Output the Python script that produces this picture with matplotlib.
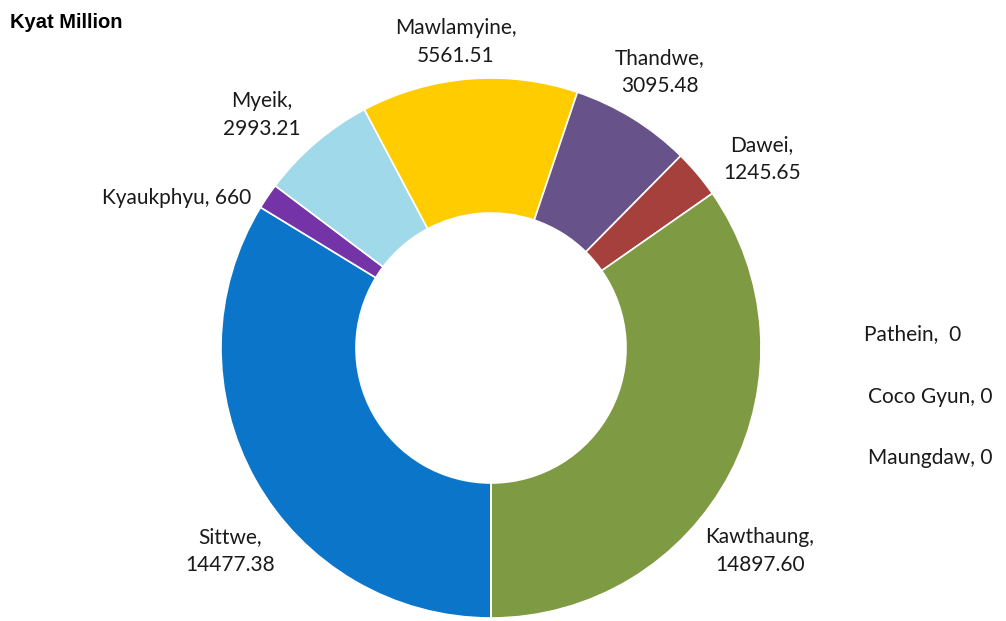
import matplotlib
matplotlib.use("Agg")
import matplotlib.pyplot as plt

# ---- data (clockwise from 6 o'clock) ----
categories = ["Sittwe", "Kyaukphyu", "Myeik", "Mawlamyine", "Thandwe", "Dawei",
              "Kawthaung", "Pathein", "Coco Gyun", "Maungdaw"]
values = [14477.38, 660, 2993.21, 5561.51, 3095.48, 1245.65, 14897.60, 0, 0, 0]
value_labels = ["14477.38", "660", "2993.21", "5561.51", "3095.48", "1245.65",
                "14897.60", "0", "0", "0"]
colors = ["#0B76C9", "#7434A8", "#A0D9EA", "#FFCC00", "#67538A", "#A5403C",
          "#7E9B43", "#4F81BD", "#C0504D", "#9BBB59"]

# label layout (data units, ring outer radius = 1)
label_pos = {
    "Sittwe": (-0.967, -0.752, "two"),
    "Kyaukphyu": (-1.163, 0.556, "one"),
    "Myeik": (-0.848, 0.863, "two"),
    "Mawlamyine": (-0.130, 1.133, "two"),
    "Thandwe": (0.626, 1.022, "two"),
    "Dawei": (1.004, 0.700, "two"),
    "Kawthaung": (0.996, -0.752, "two"),
    "Pathein": (1.563, 0.052, "one2"),
    "Coco Gyun": (1.626, -0.181, "one"),
    "Maungdaw": (1.626, -0.407, "one"),
}

W, H = 1006, 621
cx, cy, R = 491, 348, 270
fig = plt.figure(figsize=(W / 100, H / 100), dpi=100)
ax = fig.add_axes([0, 0, 1, 1])

wedges, _ = ax.pie(values, colors=colors, startangle=270, counterclock=False,
                   radius=1.0, wedgeprops=dict(width=0.5, edgecolor="white", linewidth=1.2),
                   frame=True)
ax.set_xlim(-cx / R, (W - cx) / R)
ax.set_ylim(-(H - cy) / R, cy / R)
ax.axis("off")
ax.set_aspect("equal")

lbl_font = dict(family=["Lato", "DejaVu Sans"], fontsize=15, color="#1a1a1a")
for cat, vl in zip(categories, value_labels):
    x, y, mode = label_pos[cat]
    if mode == "two":
        txt = f"{cat},\n{vl}"
    elif mode == "one2":
        txt = f"{cat},  {vl}"
    else:
        txt = f"{cat}, {vl}"
    ax.text(x, y, txt, ha="center", va="center", linespacing=1.5, **lbl_font)

fig.text(10 / W, 1 - 22 / H, "Kyat Million", ha="left", va="center",
         fontsize=14.5, fontweight="bold",
         family=["Liberation Sans Narrow", "Liberation Sans", "DejaVu Sans"])

fig.savefig("out.png", dpi=100)
